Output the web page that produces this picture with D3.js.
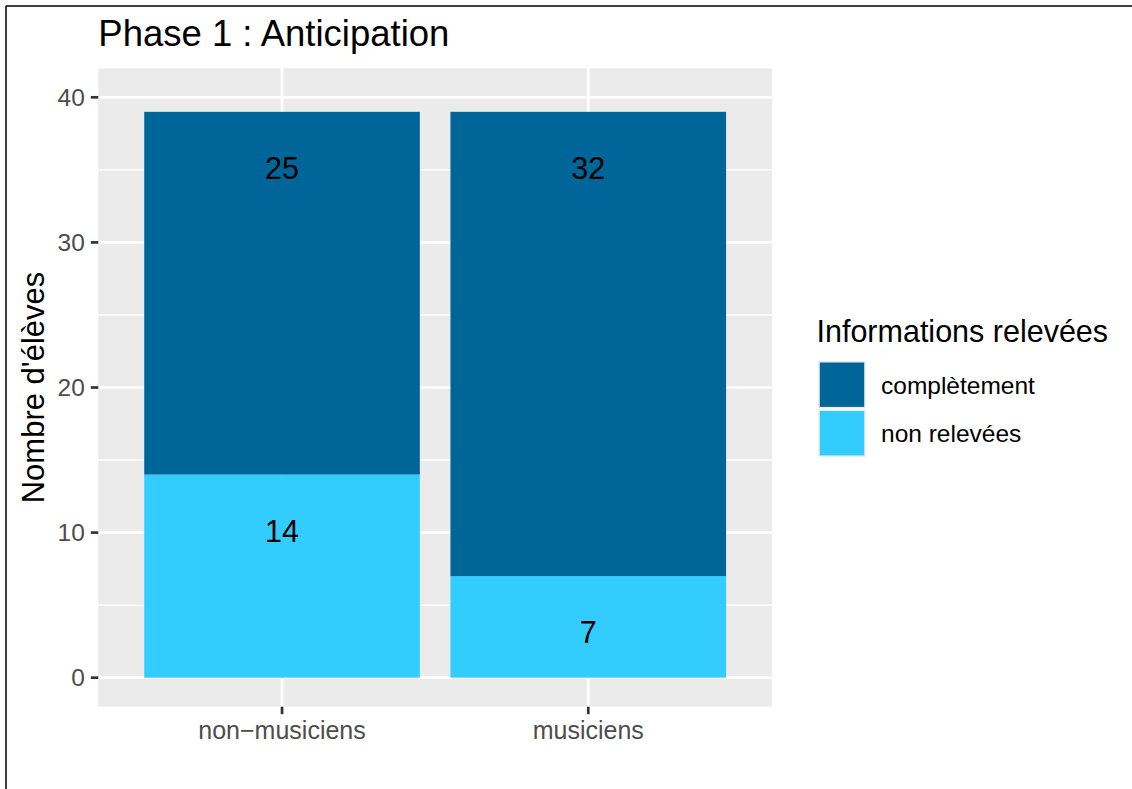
<!DOCTYPE html>
<html><head><meta charset="utf-8">
<script src="https://cdn.jsdelivr.net/npm/d3@7"></script>
<style>body{margin:0;background:#fff}svg{display:block}text{font-family:"Liberation Sans",Arial,sans-serif}</style>
</head><body><svg id="c" width="1132" height="789"></svg>
<script>
const categories = ["non-musiciens", "musiciens"];
const categoryLabels = ["non\u2212musiciens", "musiciens"];
const seriesNames = ["non relevées", "complètement"];
const nonReleveesValues = [14, 7];
const completementValues = [25, 32];
const yTicks = [0, 10, 20, 30, 40];
const yMinorTicks = [5, 15, 25, 35];
const legendOrder = ["complètement", "non relevées"];
const colors = {"complètement": "#006699", "non relevées": "#33ccff"};

const svg = d3.select("#c");
svg.append("line").attr("x1",6).attr("x2",1132).attr("y1",6).attr("y2",6).attr("stroke","#000").attr("stroke-width",1.5);
svg.append("line").attr("x1",6).attr("x2",6).attr("y1",6).attr("y2",789).attr("stroke","#000").attr("stroke-width",1.5);

const P = {l:98.3, r:772, t:68.3, b:706.7};
const x = d3.scaleLinear().domain([0.4, 2.6]).range([P.l, P.r]);
const y = d3.scaleLinear().domain([-2, 42]).range([P.b, P.t]);
const bw = 0.9;

svg.append("rect").attr("x",P.l).attr("y",P.t).attr("width",P.r-P.l).attr("height",P.b-P.t).attr("fill","#ebebeb");
const g = svg.append("g");
g.selectAll(".mn").data(yMinorTicks).join("line").attr("x1",P.l).attr("x2",P.r)
  .attr("y1",d=>y(d)).attr("y2",d=>y(d)).attr("stroke","#fff").attr("stroke-width",1.4);
g.selectAll(".mj").data(yTicks).join("line").attr("x1",P.l).attr("x2",P.r)
  .attr("y1",d=>y(d)).attr("y2",d=>y(d)).attr("stroke","#fff").attr("stroke-width",2.7);
g.selectAll(".vx").data(categories).join("line").attr("y1",P.t).attr("y2",P.b)
  .attr("x1",(d,i)=>x(i+1)).attr("x2",(d,i)=>x(i+1)).attr("stroke","#fff").attr("stroke-width",2.8);

const rows = categories.map((c,i)=>({cat:c, i, "non relevées":nonReleveesValues[i], "complètement":completementValues[i]}));
const stack = d3.stack().keys(seriesNames)(rows);
stack.forEach(s=>{
  g.selectAll(null).data(s).join("rect")
   .attr("x",d=>x(d.data.i+1-bw/2)).attr("width",d=>x(d.data.i+1+bw/2)-x(d.data.i+1-bw/2))
   .attr("y",d=>y(d[1])).attr("height",d=>y(d[0])-y(d[1]))
   .attr("fill",colors[s.key]);
});
const labelOffset = 4;
stack.forEach(s=>{
  g.selectAll(null).data(s).join("text")
   .attr("x",d=>x(d.data.i+1)).attr("y",d=>y(d[1]-labelOffset)).attr("dy",9.2)
   .attr("text-anchor","middle").attr("font-size",30.5).attr("fill","#000")
   .text(d=>d[1]-d[0]);
});

const ya = svg.append("g");
ya.selectAll("line").data(yTicks).join("line").attr("x1",P.l-7.5).attr("x2",P.l)
  .attr("y1",d=>y(d)).attr("y2",d=>y(d)).attr("stroke","#333").attr("stroke-width",2.7);
ya.selectAll("text").data(yTicks).join("text").attr("x",P.l-13.5).attr("y",d=>y(d)).attr("dy",8.6)
  .attr("text-anchor","end").attr("font-size",24.5).attr("fill","#4d4d4d").text(d=>d);
const xa = svg.append("g");
xa.selectAll("line").data(categories).join("line").attr("y1",P.b).attr("y2",P.b+7.5)
  .attr("x1",(d,i)=>x(i+1)).attr("x2",(d,i)=>x(i+1)).attr("stroke","#333").attr("stroke-width",2.7);
xa.selectAll("text").data(categoryLabels).join("text").attr("x",(d,i)=>x(i+1)).attr("y",738.5)
  .attr("text-anchor","middle").attr("font-size",25).attr("fill","#4d4d4d").text(d=>d);

svg.append("text").attr("transform",`translate(43.5,${(P.t+P.b)/2}) rotate(-90)`)
  .attr("text-anchor","middle").attr("font-size",31).attr("fill","#000").text("Nombre d'élèves");
svg.append("text").attr("x",P.l).attr("y",45.5).attr("font-size",36.5).attr("fill","#000").text("Phase 1 : Anticipation");

const L = svg.append("g");
L.append("text").attr("x",816.5).attr("y",342).attr("font-size",30.5).attr("fill","#000").text("Informations relevées");
legendOrder.forEach((k,i)=>{
  const ky = 361 + i*48.5;
  L.append("rect").attr("x",818.3).attr("y",ky).attr("width",47.4).attr("height",47.4).attr("fill","#ebebeb");
  L.append("rect").attr("x",819.8).attr("y",ky+1.5).attr("width",44.4).attr("height",44.4).attr("fill",colors[k]);
  L.append("text").attr("x",881).attr("y",ky+24).attr("dy",8.6).attr("font-size",24.5).attr("fill","#000").text(k);
});
</script></body></html>
